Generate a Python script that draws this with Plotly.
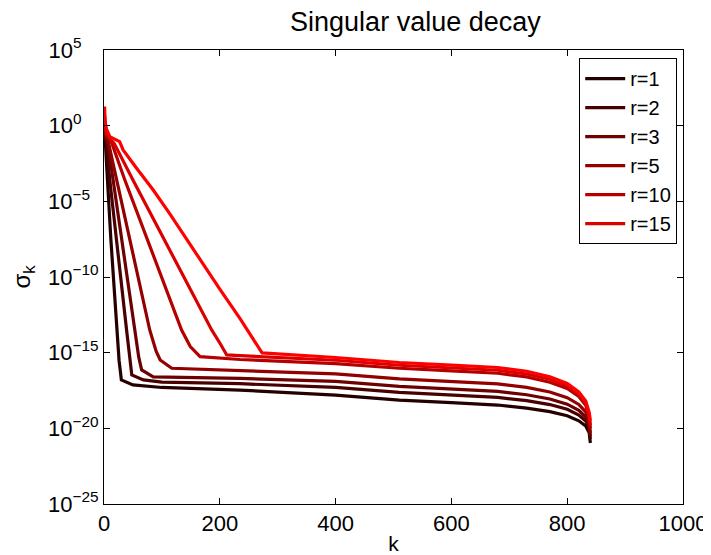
import plotly.graph_objects as go

# ---- data: k positions and log10(sigma_k) values ----
names = ["r=1", "r=2", "r=3", "r=5", "r=10", "r=15", "r=20"]
show_legend = [True, True, True, True, True, True, False]
colors = ["#240000", "#490000", "#6d0000", "#920000", "#b60000", "#db0000", "#ff0000"]

k_r1 = [1, 2, 6, 12, 22, 26, 30, 50, 100, 235, 400, 510, 600, 680, 730, 770, 800, 820, 832, 838, 840]
e_r1 = [-0.2, -1.0, -3.59, -7.6, -13.5, -15.5, -16.8, -17.13, -17.3, -17.47, -17.8, -18.13, -18.3, -18.46, -18.66, -18.9, -19.17, -19.5, -19.85, -20.3, -20.97]

k_r2 = [1, 3, 10, 39, 44, 48, 68, 100, 235, 400, 510, 600, 680, 730, 770, 800, 820, 832, 838, 840]
e_r2 = [-0.1, -1.0, -3.59, -13.5, -15.3, -16.47, -16.8, -16.95, -17.05, -17.3, -17.63, -17.8, -17.96, -18.17, -18.43, -18.74, -19.12, -19.51, -20.05, -20.7]

k_r3 = [1, 3, 6, 16, 53, 60, 65, 85, 235, 400, 510, 600, 680, 730, 770, 800, 820, 832, 838, 840]
e_r3 = [0.0, -0.7, -1.0, -3.59, -13.5, -15.3, -16.14, -16.6, -16.7, -16.9, -17.23, -17.4, -17.56, -17.78, -18.06, -18.4, -18.81, -19.25, -19.85, -20.5]

k_r5 = [1, 3, 7, 22, 79, 90, 97, 117, 235, 400, 510, 600, 680, 730, 770, 800, 820, 832, 838, 840]
e_r5 = [0.1, -0.6, -1.0, -3.59, -13.5, -14.9, -15.48, -16.03, -16.2, -16.4, -16.73, -16.9, -17.06, -17.29, -17.6, -17.97, -18.42, -18.91, -19.6, -20.3]

k_r10 = [1, 4, 12, 36, 134, 149, 166, 235, 400, 510, 600, 680, 730, 770, 800, 820, 832, 838, 840]
e_r10 = [0.3, -0.6, -1.0, -3.59, -13.5, -14.6, -15.26, -15.45, -15.72, -16.03, -16.2, -16.36, -16.6, -16.95, -17.37, -17.9, -18.47, -19.27, -20.0]

k_r15 = [1, 4, 10, 18, 50, 186, 200, 212, 235, 400, 510, 600, 680, 730, 770, 800, 820, 832, 838, 840]
e_r15 = [0.7, -0.5, -0.85, -1.2, -3.59, -13.5, -14.36, -15.15, -15.2, -15.5, -15.83, -16.0, -16.16, -16.41, -16.76, -17.19, -17.73, -18.31, -19.15, -19.8]

k_r20 = [1, 2, 4, 10, 27, 33, 56, 85, 114, 150, 200, 235, 273, 400, 510, 600, 680, 730, 770, 800, 820, 832, 838, 840]
e_r20 = [1.26, 0.2, -0.2, -0.72, -1.05, -1.6, -2.8, -4.25, -5.85, -7.95, -10.8, -12.75, -15.02, -15.32, -15.65, -15.82, -15.98, -16.23, -16.59, -17.04, -17.59, -18.19, -18.95, -19.5]

k_series = [k_r1, k_r2, k_r3, k_r5, k_r10, k_r15, k_r20]
e_series = [e_r1, e_r2, e_r3, e_r5, e_r10, e_r15, e_r20]

x_ticks = [0, 200, 400, 600, 800, 1000]
y_exps = [-25, -20, -15, -10, -5, 0, 5]


def sup_label(e):
    s = ("\u2212" + str(-e)) if e < 0 else str(e)
    pad = "\u2007" * (3 - len(s))  # keep the "10" bases aligned like the original
    return "10<sup>" + s + pad + "</sup>"


y_ticktext = [sup_label(e) for e in y_exps]

FONT = "Liberation Sans, Arial, Helvetica, sans-serif"

fig = go.Figure()
for name, sl, col, ks, es in zip(names, show_legend, colors, k_series, e_series):
    fig.add_trace(go.Scatter(
        x=ks, y=[10.0 ** e for e in es], mode="lines", name=name,
        showlegend=sl, line=dict(color=col, width=3.2)))

axis_common = dict(
    showline=True, linecolor="black", linewidth=1, mirror="ticks",
    ticks="inside", ticklen=6, tickcolor="black", showgrid=False,
    zeroline=False, automargin=False,
    tickfont=dict(family=FONT, size=22, color="black"))

fig.update_layout(
    width=711, height=555,
    margin=dict(l=96, r=36, t=42, b=59),
    paper_bgcolor="white", plot_bgcolor="white",
    font=dict(family=FONT, color="black"),
    title=dict(text="Singular value decay", x=0.573, xanchor="center",
               y=0.975, yanchor="middle",
               font=dict(family=FONT, size=27, color="black")),
    xaxis=dict(range=[0, 1000], tickvals=x_ticks,
               title=dict(text="k", font=dict(family=FONT, size=21), standoff=0),
               **axis_common),
    yaxis=dict(type="log", range=[-25, 5], tickvals=[10.0 ** e for e in y_exps],
               ticktext=y_ticktext,
               title=dict(text="\u03c3<sub>k</sub>", font=dict(family=FONT, size=24), standoff=18),
               **axis_common),
    legend=dict(x=0.99, y=0.982, xanchor="right", yanchor="top",
                bgcolor="white", bordercolor="black", borderwidth=1,
                font=dict(family=FONT, size=20, color="black"),
                tracegroupgap=0, itemwidth=40),
)

fig.write_html("out.html")
